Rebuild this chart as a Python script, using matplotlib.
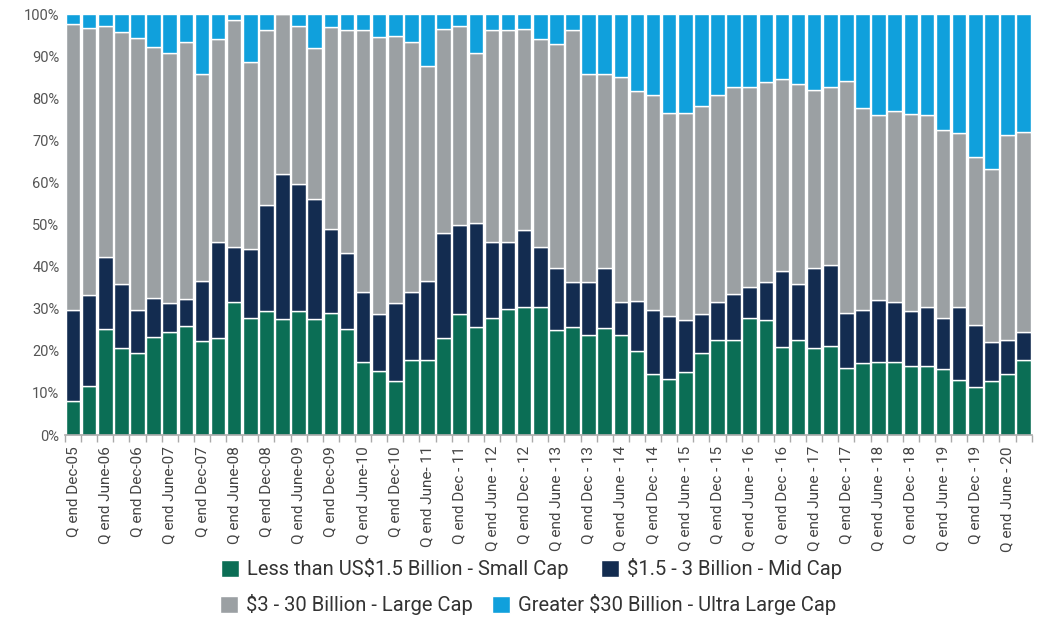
import numpy as np
import matplotlib
matplotlib.use('Agg')
import matplotlib.pyplot as plt
from matplotlib.ticker import FixedLocator, FuncFormatter

# cumulative tops (percent): small, small+mid, small+mid+large
small = [8.1, 11.7, 25.3, 20.7, 19.6, 23.4, 24.5, 25.9, 22.4, 23.1,
         31.7, 27.7, 29.5, 27.5, 29.5, 27.6, 28.9, 25.3, 17.4, 15.3,
         12.9, 17.8, 17.8, 23.1, 28.7, 25.6, 27.7, 29.9, 30.5, 30.5,
         24.9, 25.6, 23.8, 25.4, 23.8, 20.0, 14.5, 13.2, 15.0, 19.6,
         22.7, 22.7, 27.9, 27.3, 21.0, 22.7, 20.7, 21.2, 15.9, 17.0,
         17.3, 17.3, 16.4, 16.5, 15.6, 13.1, 11.5, 12.8, 14.5, 17.8]
to_mid = [29.7, 33.3, 42.2, 35.9, 29.7, 32.5, 31.3, 32.3, 36.6, 45.8,
          44.7, 44.3, 54.6, 62.1, 59.6, 56.1, 48.9, 43.2, 34.0, 28.7,
          31.3, 34.0, 36.5, 47.9, 50.0, 50.3, 45.8, 45.8, 48.7, 44.7,
          39.7, 36.4, 36.4, 39.7, 31.6, 31.8, 29.7, 28.4, 27.3, 28.7,
          31.6, 33.6, 35.2, 36.4, 39.0, 36.0, 39.7, 40.3, 29.1, 29.7,
          32.2, 31.6, 29.5, 30.5, 27.9, 30.5, 26.2, 22.0, 22.7, 24.5]
to_large = [97.6, 96.8, 97.2, 95.8, 94.4, 92.2, 90.7, 93.4, 85.9, 94.1,
            98.6, 88.7, 96.2, 100.0, 97.2, 91.9, 97.0, 96.2, 96.2, 94.5,
            94.8, 93.4, 87.8, 96.5, 97.3, 90.7, 96.3, 96.3, 96.5, 94.1,
            93.0, 96.3, 85.9, 85.9, 85.1, 81.8, 80.9, 76.6, 76.6, 78.1,
            80.9, 82.7, 82.7, 83.8, 84.5, 83.4, 82.1, 82.7, 84.2, 77.8,
            76.1, 77.0, 76.4, 76.1, 72.4, 71.8, 66.1, 63.3, 71.3, 72.1]

tick_labels = ['Q end Dec-05', 'Q end June-06', 'Q end Dec-06', 'Q end June-07',
               'Q end Dec-07', 'Q end June-08', 'Q end Dec-08', 'Q end June-09',
               'Q end Dec-09', 'Q end June-10', 'Q end Dec-10', 'Q end June- 11',
               'Q end Dec - 11', 'Q end June - 12', 'Q end Dec - 12', 'Q end June - 13',
               'Q end Dec - 13', 'Q end June - 14', 'Q end Dec - 14', 'Q end June - 15',
               'Q end Dec - 15', 'Q end June - 16', 'Q end Dec - 16', 'Q end June - 17',
               'Q end Dec - 17', 'Q end June - 18', 'Q end Dec - 18', 'Q end June - 19',
               'Q end Dec - 19', 'Q end June - 20']

series_names = ['Less than US\\$1.5 Billion - Small Cap', '\\$1.5 - 3 Billion - Mid Cap',
                '\\$3 - 30 Billion - Large Cap', 'Greater \\$30 Billion - Ultra Large Cap']
colors = ['#0B6E55', '#132C50', '#9BA0A3', '#10A0DC']

small = np.array(small)
to_mid = np.array(to_mid)
to_large = np.array(to_large)
segments = [small, to_mid - small, to_large - to_mid, 100. - to_large]

plt.rcParams['font.family'] = ['Roboto', 'DejaVu Sans']

fig = plt.figure(figsize=(10.4, 6.21), dpi=100)
ax = fig.add_axes([0.0625, 0.2995, 0.9295, 0.6775])

x = np.arange(len(small))
bottom = np.zeros(len(small))
handles = []
for seg, col, name in zip(segments, colors, series_names):
    b = ax.bar(x, seg, bottom=bottom, width=0.9, color=col, edgecolor='white',
               linewidth=1.0, label=name)
    handles.append(b)
    bottom = bottom + seg

ax.set_xlim(-0.5, len(small) - 0.5)
ax.set_ylim(0, 100)
ax.set_yticks(np.arange(0, 101, 10))
ax.yaxis.set_major_formatter(FuncFormatter(lambda v, p: '%d%%' % v))
ax.tick_params(axis='y', length=0, labelsize=10.5, labelcolor='#555555', pad=4)

ax.xaxis.set_major_locator(FixedLocator(x[::2]))
ax.set_xticklabels(tick_labels, rotation=90, fontsize=11, color='#444444')
ax.xaxis.set_minor_locator(FixedLocator(np.arange(-0.5, len(small), 1.0)))
ax.tick_params(axis='x', which='major', length=0, pad=8)
ax.tick_params(axis='x', which='minor', length=5, color='#AAAAAA', width=1)

for s in ['top', 'right', 'left']:
    ax.spines[s].set_visible(False)
ax.spines['bottom'].set_color('#AAAAAA')
ax.spines['bottom'].set_linewidth(1.2)

# legend: two independent rows, each centred under the chart
leg_kw = dict(loc='center', ncol=2, frameon=False, fontsize=14.5,
              handlelength=0.9, handleheight=0.9, handletextpad=0.4)
leg1 = fig.legend(handles[:2], series_names[:2], bbox_to_anchor=(0.511, 0.084),
                  columnspacing=1.6, **leg_kw)
leg2 = fig.legend(handles[2:], series_names[2:], bbox_to_anchor=(0.508, 0.026),
                  columnspacing=0.95, **leg_kw)
for leg in (leg1, leg2):
    for t in leg.get_texts():
        t.set_color('#333333')

plt.savefig('out.png', dpi=100)
